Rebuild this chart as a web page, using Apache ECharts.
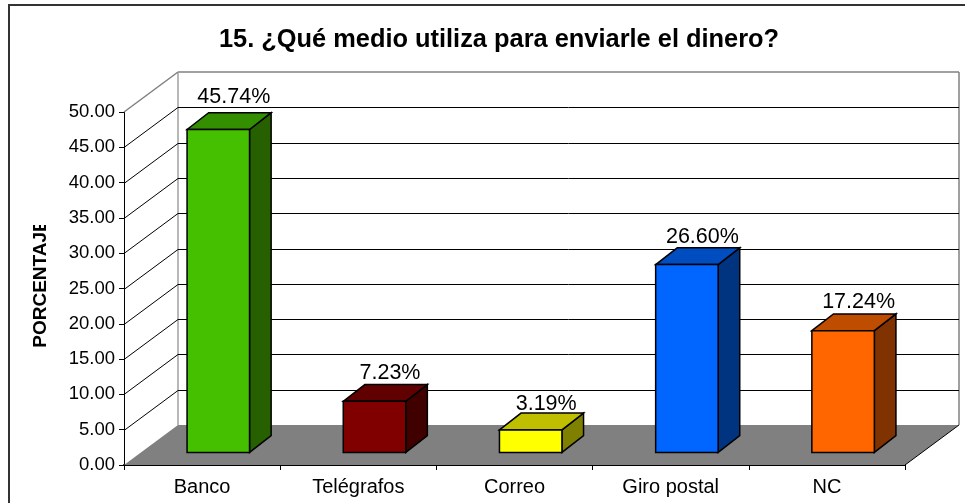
<!DOCTYPE html>
<html><head><meta charset="utf-8">
<style>html,body{margin:0;padding:0;background:#fff}#c{width:965px;height:503px}</style>
<script src="https://cdn.jsdelivr.net/npm/echarts@6/dist/echarts.min.js"></script>
</head><body><div id="c"></div>
<script>
const categories = ['Banco','Telégrafos','Correo','Giro postal','NC'];
const values = [45.74,7.23,3.19,26.60,17.24];
const valueLabels = ['45.74%','7.23%','3.19%','26.60%','17.24%'];
const barColors = ['#44c000','#800000','#ffff00','#0066ff','#ff6600'];
const sideColors = ['#266000','#400000','#808000','#003380','#803300'];
const topColors = ['#338f00','#600000','#bfbf00','#004dbf','#bf4d00'];
const yTicks = [5,10,15,20,25,30,35,40,45];
const yMax = 50, yStep = 5;

const FONT = '"Liberation Sans", Arial, sans-serif';
const DX = 54, DY = -40;          // depth of the 3D box
const LABEL_NUDGE = [-4,1,3,1,0]; // hand placement of the data labels, as in the original

const chart = echarts.init(document.getElementById('c'), null, {renderer:'canvas'});

function poly(points, fill, stroke, lw){
  return {type:'polygon', shape:{points}, style:{fill, stroke:stroke||null, lineWidth:lw||0}};
}
function line(x1,y1,x2,y2,stroke,lw){
  return {type:'line', shape:{x1,y1,x2,y2}, style:{stroke, lineWidth:lw||1, fill:null}};
}

chart.setOption({
  animation:false,
  backgroundColor:'#fff',
  title:{text:'15. ¿Qué medio utiliza para enviarle el dinero?', left:494, top:22, textAlign:'center',
    textStyle:{fontFamily:FONT, fontSize:25.4, fontWeight:'bold', color:'#000'}},
  grid:{left:124, right:60, top:112, bottom:38},
  xAxis:{type:'category', data:categories, boundaryGap:true,
    axisLine:{lineStyle:{color:'#000',width:2}},
    axisTick:{show:true,length:5,alignWithLabel:false,lineStyle:{color:'#000'}},
    axisLabel:{fontFamily:FONT,fontSize:20,color:'#000',margin:12},
    splitLine:{show:false}},
  yAxis:{type:'value', min:0, max:yMax, interval:yStep,
    axisLine:{show:true,lineStyle:{color:'#000',width:1}},
    axisTick:{show:true,length:5,lineStyle:{color:'#000'}},
    axisLabel:{fontFamily:FONT,fontSize:18.5,color:'#000',margin:9,formatter:v=>v.toFixed(2)},
    splitLine:{show:false}},
  graphic:[
    {type:'rect',z:100,shape:{x:9,y:5,width:1000,height:600},style:{fill:null,stroke:'#333',lineWidth:2},silent:true},
    {type:'text',z:100,x:40.5,y:283.5,rotation:Math.PI/2,silent:true,
     style:{text:'PORCENTAJE',align:'center',verticalAlign:'middle',font:'bold 19px '+FONT,fill:'#000'}},
    {type:'rect',z:101,shape:{x:28,y:205,width:24,height:20},style:{fill:'#fff'},silent:true}
  ],
  series:[
    {type:'custom', coordinateSystem:'cartesian2d', clip:false, z:1, data:[0],
     renderItem(p, api){
       const o = api.coord([0,0]), w = api.size([1,0])[0];
       const L = o[0]-w/2, B = o[1], T = api.coord([0,yMax])[1], R = L+w*categories.length;
       return {type:'group', children:[
         poly([[L,B],[R,B],[R+DX,B+DY],[L+DX,B+DY]],'#808080'),
         line(L+DX,T+DY,R+DX,T+DY,'#808080',1.5),
         line(R+DX,T+DY,R+DX,B+DY,'#808080',1.5),
         line(L+DX,T+DY,L+DX,B+DY,'#a0a0a0',1.5),
         line(L,T,L+DX,T+DY,'#808080',1.5),
         line(R,B,R+DX,B+DY,'#000',1)
       ]};
     }},
    {type:'custom', coordinateSystem:'cartesian2d', clip:false, z:2, data:yTicks.map(v=>[0,v]),
     encode:{x:0,y:1},
     renderItem(p, api){
       const c = api.coord([0,api.value(1)]), w = api.size([1,0])[0];
       const L = c[0]-w/2, R = L+w*categories.length, y = Math.round(c[1])+0.5;
       return {type:'group', children:[
         line(L,y,L+DX,y+DY,'#000',1),
         line(L+DX,y+DY,R+DX,y+DY,'#000',1)
       ]};
     }},
    {type:'custom', coordinateSystem:'cartesian2d', clip:false, z:3,
     data:values.map((v,i)=>[i,v]), encode:{x:0,y:1},
     renderItem(p, api){
       const i = api.value(0), t = api.coord([i,api.value(1)]), b = api.coord([i,0]);
       const w = api.size([1,0])[0]*0.4;
       const ox = DX*0.3, oy = DY*0.315, dx = DX*0.4, dy = DY*0.42;
       const xl = b[0]+ox-w/2, xr = xl+w, yb = b[1]+oy, yt = t[1]+oy;
       const S = '#000';
       return {type:'group', children:[
         poly([[xr,yt],[xr+dx,yt+dy],[xr+dx,yb+dy],[xr,yb]],sideColors[i],S,1.5),
         poly([[xl,yt],[xl+dx,yt+dy],[xr+dx,yt+dy],[xr,yt]],topColors[i],S,1.5),
         poly([[xl,yt],[xr,yt],[xr,yb],[xl,yb]],barColors[i],S,1.5),
         {type:'text', style:{text:valueLabels[i], x:xl+w/2+15.5, y:yt+dy-12+LABEL_NUDGE[i], align:'center', verticalAlign:'middle',
           font:'21.5px '+FONT, fill:'#000'}}
       ]};
     }}
  ]
});
</script></body></html>
